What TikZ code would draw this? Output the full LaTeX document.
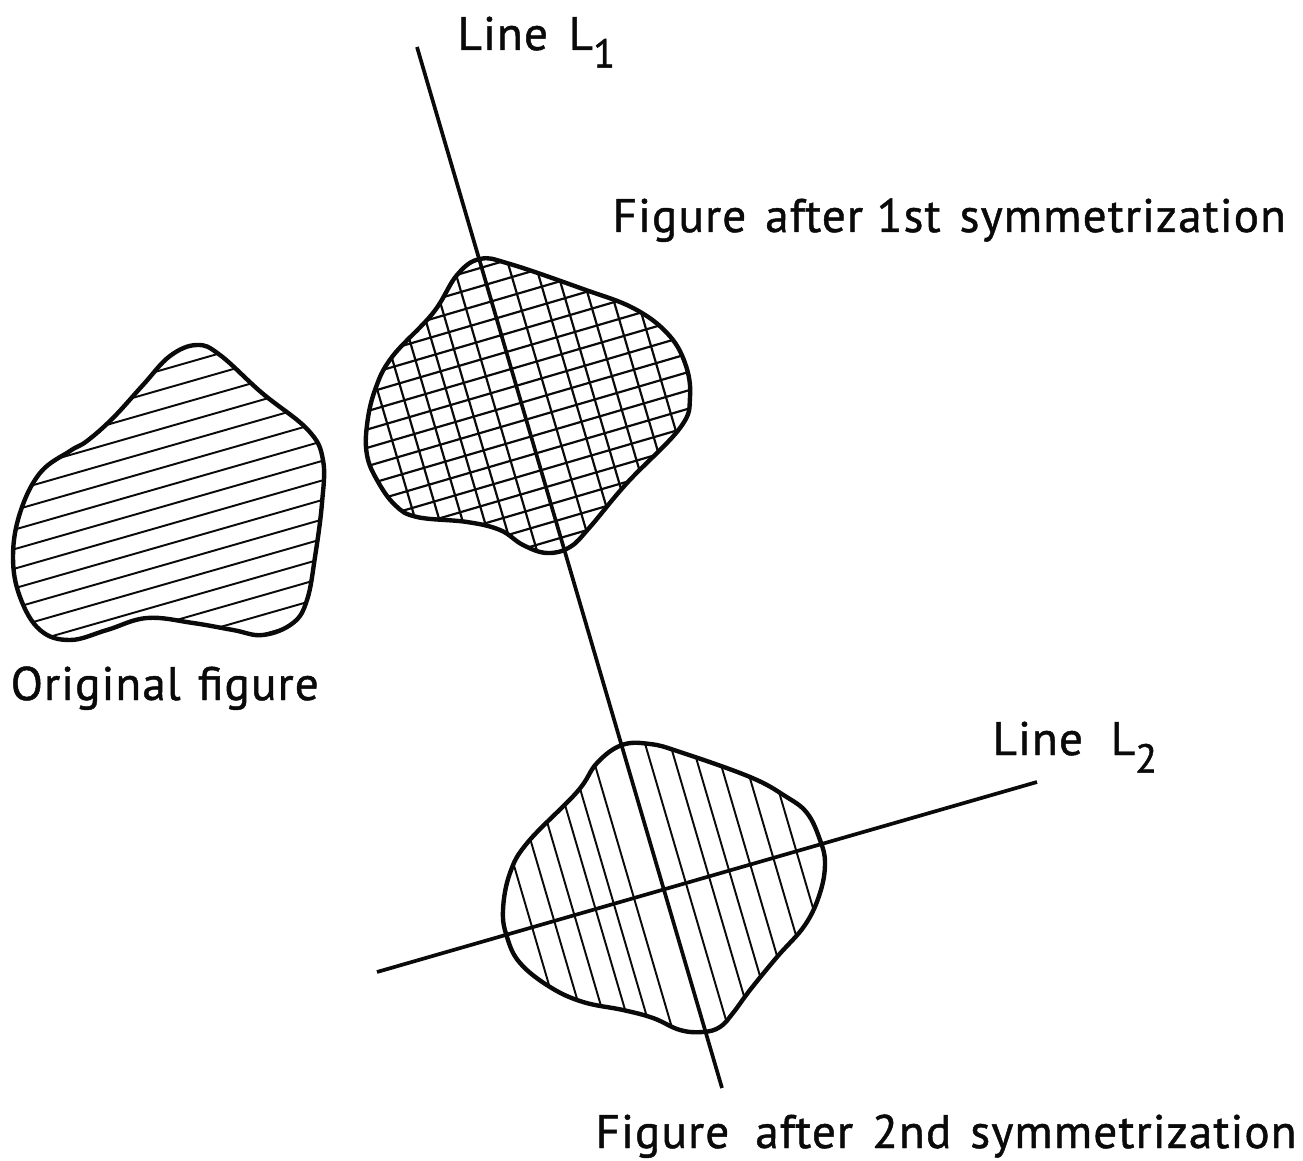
\documentclass[tikz,border=0pt]{standalone}
\usepackage{fontspec}
\setmainfont[FakeBold=1,LetterSpace=2.5]{PT Sans}
\definecolor{ink}{RGB}{10,10,10}
\tikzset{
  outline/.style={draw=ink,line width=1.25pt,line join=round},
  axisline/.style={draw=ink,line width=1.05pt},
  hatch/.style={draw=ink,line width=0.55pt},
  crosshatch/.style={draw=ink,line width=0.62pt},
  tag/.style={font=\fontsize{13.4}{16}\selectfont,text=ink,anchor=base west,inner sep=0pt},
}
\newcommand\lowdigit[1]{\raisebox{-5pt}{\fontsize{11.5}{12}\selectfont #1}}
\newcommand\originalblob{plot[smooth cycle,tension=0.65] coordinates {(197,345) (220,355) (262,393) (308,430) (323,460) (322,503) (315,557) (307,600) (293,623) (263,635) (233,630) (193,623) (147,618) (107,630) (70,640) (40,630) (20,597) (13,557) (20,513) (40,473) (70,451) (87,441) (113,418) (143,385) (170,356)}}
\newcommand\firstblob{plot[smooth cycle,tension=0.65] coordinates {(480,259) (510,264) (583,289) (633,308) (667,333) (685,363) (690,397) (680,428) (627,483) (590,527) (570,547) (547,553) (523,545) (500,530) (467,522) (417,517) (395,505) (377,480) (367,455) (367,425) (375,390) (392,357) (433,313) (457,275)}}
\newcommand\secondblob{plot[smooth cycle,tension=0.65] coordinates {(622,745) (650,744) (680,752) (750,777) (785,796) (807,813) (820,840) (825,863) (820,893) (805,925) (777,957) (750,990) (733,1013) (720,1027) (703,1032) (680,1030) (653,1018) (623,1010) (583,1002) (550,987) (520,963) (507,937) (503,910) (510,873) (528,842) (577,792) (597,763)}}
\begin{document}
\begin{tikzpicture}[x=0.01cm,y=-0.01cm]
  \useasboundingbox (0,0) rectangle (1303,1161);
  % original figure
  \begin{scope}
    \clip \originalblob;
    \begin{scope}[shift={(20,528)},rotate=16]
      \foreach \k in {-7,...,9} \draw[hatch] (-100,\k*18.8) -- (450,\k*18.8);
    \end{scope}
  \end{scope}
  \draw[outline] \originalblob;
  % first symmetrization
  \begin{scope}
    \clip \firstblob;
    \begin{scope}[shift={(518,390)},rotate=106.33]
      \foreach \off in {-135,-112,-90,-69,-50,-27,26,52,71,94,117,140}
        \draw[crosshatch] (-300,\off) -- (300,\off);
    \end{scope}
    \begin{scope}[shift={(370,447)},rotate=16.33]
      \foreach \k in {-10,...,10} \draw[crosshatch] (-100,\k*17.6) -- (450,\k*17.6);
    \end{scope}
  \end{scope}
  \draw[outline] \firstblob;
  % second symmetrization
  \begin{scope}
    \clip \secondblob;
    \begin{scope}[shift={(661,880)},rotate=106.33]
      \foreach \off in {-137,-114,-93,-71,-52,-31,23,47,68,90,114,138}
        \draw[hatch] (-300,\off) -- (300,\off);
    \end{scope}
  \end{scope}
  \draw[outline] \secondblob;
  % lines
  \coordinate (l1a) at (417,47);
  \coordinate (l1b) at (722,1088);
  \coordinate (l2a) at (377,972);
  \coordinate (l2b) at (1037,782);
  \draw[axisline] (l1a) -- (l1b);
  \draw[axisline] (l2a) -- (l2b);
  % labels
  \node[tag] (linea) at (457,50) {Line\hspace{2pt} L\lowdigit{1}};
  \node[tag] (first) at (612,232) {Figure\hspace{1.5pt} after 1st\hspace{1.5pt} symmetrization};
  \node[tag] (orig) at (10,700) {Original\hspace{1pt} figure};
  \node[tag] (lineb) at (992,755) {Line\hspace{4pt} L\lowdigit{2}};
  \node[tag] (second) at (595,1148) {Figure\hspace{3.5pt} after\hspace{1.5pt} 2nd\hspace{1.5pt} symmetrization};
\end{tikzpicture}
\end{document}
